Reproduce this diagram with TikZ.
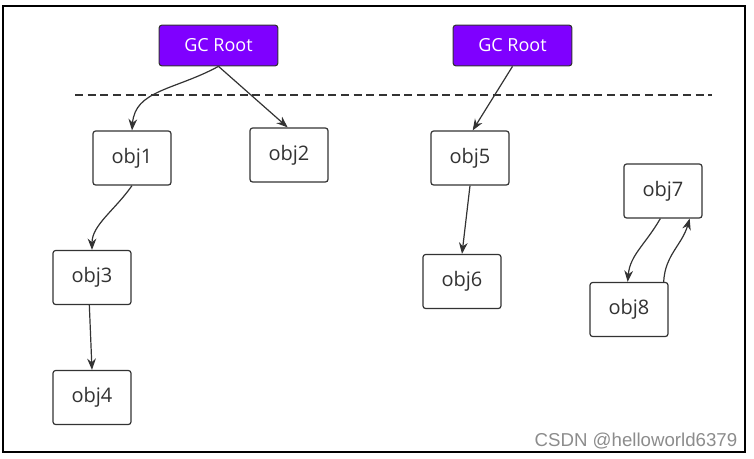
\documentclass[tikz,border=0pt]{standalone}
\usepackage{fontspec}
\setmainfont{Open Sans}
\newfontfamily\markfont{Liberation Sans}
\usetikzlibrary{arrows.meta}
\definecolor{rootfill}{HTML}{7F00FF}
\definecolor{boxline}{HTML}{333333}
\begin{document}
\begin{tikzpicture}[x=0.75pt, y=-0.75pt,
    objbox/.style={draw=boxline, line width=0.9pt, rounded corners=2pt, fill=white,
                   minimum width=58.5pt, minimum height=40.5pt, inner sep=0pt,
                   font=\fontsize{15}{18}\selectfont, text=black!80},
    rootbox/.style={draw=black!80, line width=0.8pt, rounded corners=2pt, fill=rootfill,
                    minimum width=89pt, minimum height=30.5pt, inner sep=0pt,
                    font=\fontsize{13.5}{16}\selectfont, text=white},
    link/.style={draw=boxline, line width=0.9pt, -{Stealth[length=8.5pt, width=6.5pt]}}]
    \useasboundingbox (0,0) rectangle (754,458);
    \draw[line width=1pt] (3,6) rectangle (745,452);
    \draw[dashed, dash pattern=on 6pt off 3.5pt, line width=0.8pt, black!80] (75,95) -- (712,95);
    \node[rootbox] (root1) at (218.5,45.5) {GC Root};
    \node[rootbox] (root2) at (512.5,45.5) {GC Root};
    \node[objbox] (obj1) at (132,158) {obj1};
    \node[objbox] (obj2) at (289,155) {obj2};
    \node[objbox] (obj3) at (92,277.5) {obj3};
    \node[objbox] (obj4) at (92,397.5) {obj4};
    \node[objbox] (obj5) at (470,158) {obj5};
    \node[objbox] (obj6) at (462,281.5) {obj6};
    \node[objbox] (obj7) at (663,191) {obj7};
    \node[objbox] (obj8) at (629,309.5) {obj8};
    % reachable from the roots
    \draw[link] (root1.south) .. controls (175,90) and (135,90) .. (obj1.north);
    \draw[link] (root1.south) -- ([xshift=-1pt]obj2.north);
    \draw[link] (root2.south) -- ([xshift=2pt]obj5.north);
    \draw[link] (obj1.south) .. controls (115,210) and (92,225) .. (obj3.north);
    \draw[link] ([xshift=-2pt]obj3.south) -- (obj4.north);
    \draw[link] (obj5.south) -- (obj6.north);
    % cycle, not reachable
    \draw[link] ([xshift=-2pt]obj7.south) .. controls (645,245) and (630,255) .. ([xshift=-1pt]obj8.north);
    \draw[link] ([xshift=26pt]obj8.north) .. controls (665,255) and (682,245) .. ([xshift=20pt]obj7.south);
    \node[font=\markfont\fontsize{14}{16}\selectfont, text=black!45, anchor=east] (mark) at (742,441) {CSDN @helloworld6379};
\end{tikzpicture}
\end{document}
